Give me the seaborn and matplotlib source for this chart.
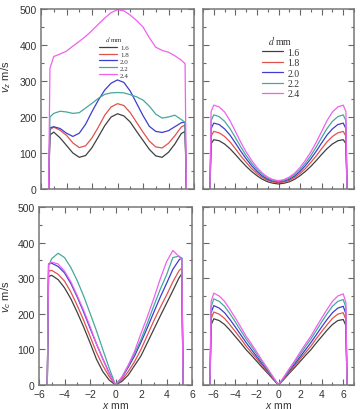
import matplotlib
matplotlib.use("Agg")
import matplotlib.pyplot as plt
import seaborn as sns
import pandas as pd
from matplotlib.ticker import MultipleLocator
from matplotlib.font_manager import FontProperties

# ---------------- data ----------------
d_labels = ["1.6", "1.8", "2.0", "2.2", "2.4"]
colors = ["#404040", "#e0524c", "#3d3dcf", "#45a89c", "#f060ee"]

# top-left: v_z (panel a)
xa = [-5.4, -5.3, -5.0, -4.5, -4.0, -3.5, -3.0, -2.5, -2.0, -1.5, -1.0, -0.5, 0.0,
      0.5, 1.0, 1.5, 2.0, 2.5, 3.0, 3.5, 4.0, 4.5, 5.0, 5.3, 5.4]
a16 = [0, 150, 158, 142, 121, 100, 88, 93, 115, 145, 176, 200, 209, 203, 186, 160, 135, 110, 92, 88, 102, 125, 154, 160, 0]
a18 = [0, 165, 172, 163, 149, 128, 115, 120, 142, 172, 205, 228, 237, 232, 212, 185, 158, 133, 117, 114, 127, 148, 172, 178, 0]
a20 = [0, 170, 173, 168, 155, 146, 155, 180, 215, 247, 275, 294, 303, 296, 272, 238, 204, 174, 160, 157, 162, 173, 184, 186, 0]
a22 = [0, 200, 210, 216, 214, 210, 212, 225, 238, 252, 263, 267, 268, 267, 262, 256, 247, 230, 208, 197, 200, 205, 193, 185, 0]
a24 = [0, 335, 368, 375, 383, 397, 410, 424, 440, 458, 475, 490, 498, 495, 483, 468, 450, 420, 394, 385, 380, 370, 358, 348, 0]

# top-right: v_z (panel b)
xb = [-6.35, -6.25, -6.0, -5.5, -5.0, -4.5, -4.0, -3.5, -3.0, -2.5, -2.0, -1.5, -1.0, -0.5, 0.0,
      0.5, 1.0, 1.5, 2.0, 2.5, 3.0, 3.5, 4.0, 4.5, 5.0, 5.5, 6.0, 6.25, 6.35]
b16 = [0, 126, 137, 134, 125, 112, 96, 79, 63, 49, 37, 27, 20, 16, 14, 16, 20, 27, 37, 49, 63, 79, 96, 112, 125, 134, 137, 126, 0]
b18 = [0, 147, 160, 156, 146, 131, 112, 92, 74, 57, 43, 32, 24, 19, 18, 19, 24, 32, 43, 57, 74, 92, 112, 131, 146, 156, 160, 147, 0]
b20 = [0, 168, 183, 179, 167, 150, 128, 105, 84, 65, 49, 36, 27, 22, 20, 22, 27, 36, 49, 65, 84, 105, 128, 150, 167, 179, 183, 168, 0]
b22 = [0, 190, 206, 201, 188, 168, 143, 117, 93, 72, 54, 40, 30, 24, 21, 24, 30, 40, 54, 72, 93, 117, 143, 168, 188, 201, 206, 190, 0]
b24 = [0, 215, 233, 228, 214, 190, 160, 130, 103, 80, 60, 44, 33, 26, 23, 26, 33, 44, 60, 80, 103, 130, 160, 190, 214, 228, 233, 215, 0]

# bottom-left: v_c (panel c)
xc = [-5.35, -5.25, -5.0, -4.5, -4.0, -3.5, -3.0, -2.5, -2.0, -1.5, -1.0, -0.5, 0.0,
      0.5, 1.0, 1.5, 2.0, 2.5, 3.0, 3.5, 4.0, 4.5, 5.0, 5.2, 5.3]
c16 = [0, 305, 308, 296, 273, 242, 204, 163, 119, 73, 38, 14, 0, 10, 28, 55, 82, 119, 156, 193, 229, 265, 302, 312, 0]
c18 = [0, 320, 322, 311, 292, 261, 223, 182, 137, 92, 55, 24, 0, 14, 38, 66, 100, 140, 180, 217, 252, 290, 322, 328, 0]
c20 = [0, 340, 342, 333, 315, 285, 247, 205, 160, 116, 74, 34, 0, 20, 50, 82, 120, 161, 204, 246, 285, 325, 352, 357, 0]
c22 = [0, 335, 355, 370, 358, 330, 293, 250, 202, 153, 100, 48, 0, 22, 55, 89, 128, 174, 222, 268, 309, 358, 362, 355, 0]
c24 = [0, 338, 345, 340, 320, 290, 251, 210, 165, 116, 73, 33, 0, 22, 55, 95, 145, 192, 243, 297, 346, 378, 360, 350, 0]

# bottom-right: v_c (panel d)
xd = [-6.35, -6.25, -6.0, -5.5, -5.0, -4.5, -4.0, -3.5, -3.0, -2.5, -2.0, -1.5, -1.0, -0.5, 0.0,
      0.5, 1.0, 1.5, 2.0, 2.5, 3.0, 3.5, 4.0, 4.5, 5.0, 5.5, 6.0, 6.25, 6.35]
d16 = [0, 169, 186, 181, 170, 154, 136, 118, 99, 83, 66, 49, 33, 16, 0, 16, 33, 49, 66, 83, 99, 118, 136, 154, 170, 181, 184, 167, 0]
d18 = [0, 186, 205, 199, 187, 169, 150, 130, 109, 91, 73, 54, 36, 18, 0, 18, 36, 54, 73, 91, 109, 130, 150, 169, 187, 199, 203, 184, 0]
d20 = [0, 203, 223, 216, 203, 184, 163, 141, 119, 99, 79, 59, 40, 20, 0, 20, 40, 59, 79, 99, 119, 141, 163, 184, 203, 216, 221, 200, 0]
d22 = [0, 220, 242, 235, 221, 200, 177, 153, 129, 108, 86, 64, 43, 21, 0, 21, 43, 64, 86, 108, 129, 153, 177, 200, 221, 235, 240, 218, 0]
d24 = [0, 235, 258, 250, 235, 212, 188, 163, 137, 115, 92, 68, 46, 23, 0, 23, 46, 68, 92, 115, 137, 163, 188, 212, 235, 250, 256, 232, 0]

# ---------------- style ----------------
sns.set_theme(style="ticks")
plt.rcParams["font.family"] = ["Liberation Sans", "DejaVu Sans"]
plt.rcParams["mathtext.fontset"] = "custom"
plt.rcParams["mathtext.rm"] = "Liberation Sans"
plt.rcParams["mathtext.it"] = "Liberation Sans:italic"

fig = plt.figure(figsize=(3.62, 4.10), dpi=100)
W, H = 362.0, 410.0


def add_axes(l, r, t, b):
    return fig.add_axes([l / W, 1 - b / H, (r - l) / W, (b - t) / H])


ax_a = add_axes(41, 194, 10, 190)
ax_b = add_axes(203, 354, 10, 190)
ax_c = add_axes(39, 192, 208, 386)
ax_d = add_axes(203, 354, 208, 386)


def draw(ax, x, series, legend):
    frames = [pd.DataFrame({"x": x, "v": s, "d": lab}) for s, lab in zip(series, d_labels)]
    df = pd.concat(frames, ignore_index=True)
    sns.lineplot(data=df, x="x", y="v", hue="d", hue_order=d_labels,
                 palette=colors, estimator=None, sort=False, lw=0.9,
                 ax=ax, legend=legend)
    ax.set_ylim(0, 500)
    ax.set_xlabel("")
    ax.set_ylabel("")
    ax.xaxis.set_major_locator(MultipleLocator(2))
    ax.xaxis.set_minor_locator(MultipleLocator(1))
    ax.yaxis.set_major_locator(MultipleLocator(100))
    ax.yaxis.set_minor_locator(MultipleLocator(50))
    ax.tick_params(which="both", direction="in", top=True, right=True,
                   color="#666666", width=0.8, labelsize=7.5, labelcolor="#333333")
    ax.tick_params(axis="x", pad=3.0)
    ax.tick_params(axis="y", pad=3.0)
    ax.tick_params(which="major", length=4)
    ax.tick_params(which="minor", length=2.5)
    for sp in ax.spines.values():
        sp.set_color("#777777")
        sp.set_linewidth(1.1)


draw(ax_a, xa, [a16, a18, a20, a22, a24], True)
draw(ax_b, xb, [b16, b18, b20, b22, b24], True)
draw(ax_c, xc, [c16, c18, c20, c22, c24], False)
draw(ax_d, xd, [d16, d18, d20, d22, d24], False)

ax_a.set_xlim(-6, 6)
ax_c.set_xlim(-6, 6)
ax_b.set_xlim(-7, 7)
ax_d.set_xlim(-7, 7)

ax_a.tick_params(labelbottom=False)
ax_b.tick_params(labelbottom=False, labelleft=False)
ax_d.tick_params(labelleft=False)

ax_a.set_ylabel("$v_z$ m/s", fontsize=8, color="#333333")
ax_a.yaxis.set_label_coords(-0.18, 0.63)
ax_c.set_ylabel("$v_c$ m/s", fontsize=8, color="#333333")
ax_c.yaxis.set_label_coords(-0.17, 0.5)
for ax in (ax_c, ax_d):
    ax.set_xlabel("$x$ mm", fontsize=7.5, color="#333333", labelpad=0.5)


def style_legend(ax, size, anchor, hl):
    handles, labels = ax.get_legend_handles_labels()
    leg = ax.legend(handles, labels, title="$d$ mm", frameon=False,
                    prop=FontProperties(family="Liberation Serif", size=size),
                    title_fontproperties=FontProperties(family="Liberation Serif", size=size),
                    loc="upper left", bbox_to_anchor=anchor, borderaxespad=0,
                    handlelength=hl, handletextpad=0.4, labelspacing=0.15, borderpad=0)
    leg.get_title().set_math_fontfamily("stix")
    leg.get_title().set_color("#333333")
    for t in leg.get_texts():
        t.set_color("#333333")
    for ln in leg.get_lines():
        ln.set_linewidth(0.9)


style_legend(ax_a, 5, (0.38, 0.86), 2.6)
style_legend(ax_b, 7, (0.39, 0.86), 2.2)

fig.savefig("out.png", dpi=100)
